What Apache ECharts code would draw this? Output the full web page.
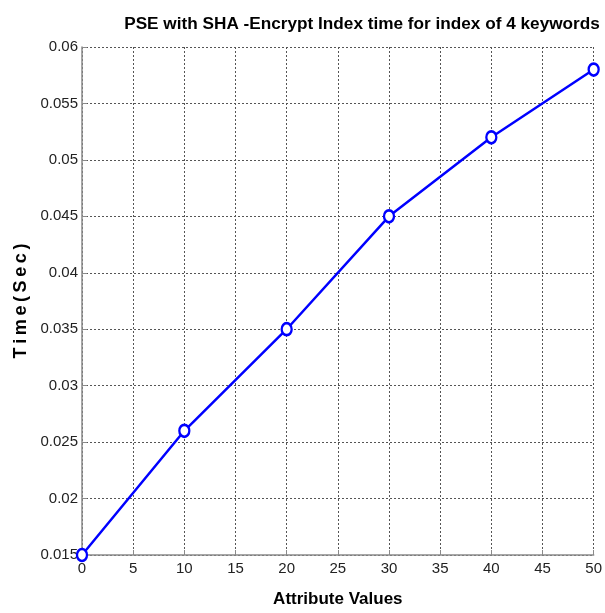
<!DOCTYPE html>
<html>
<head>
<meta charset="utf-8">
<script src="https://cdn.jsdelivr.net/npm/echarts@6/dist/echarts.min.js"></script>
<style>
  html, body { margin: 0; padding: 0; background: #fff; }
  #chart { width: 605px; height: 613px; }
</style>
</head>
<body>
<div id="chart"></div>
<script>
// attribute values on x, index time in seconds on y
const attributeValues = [0, 10, 20, 30, 40, 50];
const timeSec = [0.015, 0.026, 0.035, 0.045, 0.052, 0.058];

const chart = echarts.init(document.getElementById("chart"));

const axisColor = "#8a8a8a";
const gridLine = { show: true, lineStyle: { color: "#555", type: [2, 2], width: 1 } };

chart.setOption({
  animation: false,
  title: {
    text: "PSE with SHA -Encrypt Index time for index of 4 keywords",
    left: 357,
    top: 11,
    textAlign: "center",
    textStyle: { fontFamily: "Liberation Sans", fontSize: 17.2, fontWeight: "bold", color: "#000" }
  },
  grid: { left: 82, right: 8, top: 47, bottom: 52 },
  xAxis: {
    type: "value",
    min: 0,
    max: 50,
    interval: 5,
    name: "Attribute Values",
    nameLocation: "middle",
    nameGap: 36,
    nameTextStyle: { fontFamily: "Liberation Sans", fontSize: 17, fontWeight: "bold", color: "#000" },
    axisLine: { show: true, lineStyle: { color: axisColor, width: 1.5 } },
    axisTick: { show: true, inside: true, length: 5, lineStyle: { color: axisColor } },
    axisLabel: { fontFamily: "Liberation Sans", fontSize: 15, color: "#222", margin: 6 },
    splitLine: gridLine
  },
  yAxis: {
    type: "value",
    min: 0.015,
    max: 0.06,
    interval: 0.005,
    name: "T\u2009i\u2009m\u2009e\u2009(\u2009S\u2009e\u2009c\u2009)",
    nameLocation: "middle",
    nameGap: 50,
    nameTextStyle: { fontFamily: "Liberation Sans", fontSize: 18, fontWeight: "bold", color: "#000" },
    axisLine: { show: true, lineStyle: { color: axisColor, width: 1.5 } },
    axisTick: { show: true, inside: true, length: 5, lineStyle: { color: axisColor } },
    axisLabel: {
      fontFamily: "Liberation Sans",
      fontSize: 15,
      color: "#222",
      margin: 4,
      formatter: v => String(Math.round(v * 1000) / 1000)
    },
    splitLine: gridLine
  },
  series: [
    {
      type: "line",
      data: attributeValues.map((x, i) => [x, timeSec[i]]),
      symbol: "circle",
      symbolSize: [10, 12],
      showAllSymbol: true,
      lineStyle: { color: "#0000ff", width: 2.5 },
      itemStyle: { color: "#fff", borderColor: "#0000ff", borderWidth: 2.5 },
      clip: false,
      z: 5
    }
  ]
});
</script>
</body>
</html>
